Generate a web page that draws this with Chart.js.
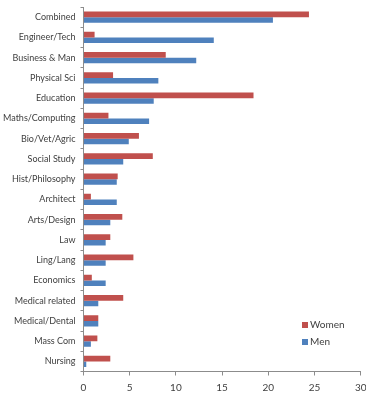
<!DOCTYPE html>
<html>
<head>
<meta charset="utf-8">
<script src="https://cdn.jsdelivr.net/npm/chart.js@4/dist/chart.umd.min.js"></script>
<style>
html,body{margin:0;padding:0;background:#fff;}
#wrap{position:relative;width:366px;height:399px;}
</style>
</head>
<body>
<div id="wrap"><canvas id="c" width="366" height="399"></canvas></div>
<script>
const categories = ["Combined","Engineer/Tech","Business & Man","Physical Sci","Education","Maths/Computing","Bio/Vet/Agric","Social Study","Hist/Philosophy","Architect","Arts/Design","Law","Ling/Lang","Economics","Medical related","Medical/Dental","Mass Com","Nursing"];
const women = [24.4,1.2,8.9,3.2,18.4,2.7,6.0,7.5,3.7,0.8,4.2,2.9,5.4,0.9,4.3,1.6,1.5,2.9];
const men   = [20.5,14.1,12.2,8.1,7.6,7.1,4.9,4.3,3.6,3.6,2.9,2.4,2.4,2.4,1.6,1.6,0.8,0.3];
const xTicks = [0,5,10,15,20,25,30];

const FONT = "Lato, 'Open Sans', sans-serif";
const TXT = "#404040";
const AX = "#8c8c8c";

const legendPlugin = {
  id: 'customLegend',
  afterDraw(chart) {
    const ctx = chart.ctx;
    const items = chart.data.datasets.map(d => ({label: d.label, color: d.backgroundColor}));
    const x0 = 302, y0 = 325, dy = 17;
    ctx.save();
    ctx.font = "10px " + FONT;
    ctx.textBaseline = 'middle';
    ctx.textAlign = 'left';
    items.forEach((it, i) => {
      const y = y0 + i * dy;
      ctx.fillStyle = it.color;
      ctx.fillRect(x0, y - 3, 6, 6);
      ctx.fillStyle = TXT;
      ctx.fillText(it.label, x0 + 8, y);
    });
    ctx.restore();
  }
};

new Chart(document.getElementById('c'), {
  type: 'bar',
  data: {
    labels: categories,
    datasets: [
      {label: 'Women', data: women, backgroundColor: '#C0504D', borderWidth: 0, categoryPercentage: 0.56, barPercentage: 1.0},
      {label: 'Men', data: men, backgroundColor: '#4F81BD', borderWidth: 0, categoryPercentage: 0.56, barPercentage: 1.0}
    ]
  },
  options: {
    indexAxis: 'y',
    responsive: false,
    animation: false,
    devicePixelRatio: 1,
    layout: {padding: 0},
    plugins: {legend: {display: false}, tooltip: {enabled: false}},
    scales: {
      x: {
        min: 0, max: 30,
        afterBuildTicks(scale) { scale.ticks = xTicks.map(v => ({value: v})); },
        afterFit(scale) { scale.height = 27.5; scale.paddingLeft = 0; scale.paddingRight = 5.3; },
        grid: {drawOnChartArea: false, drawTicks: true, tickLength: 4, color: AX},
        border: {color: AX},
        ticks: {color: TXT, font: {family: FONT, size: 10}, padding: 6, maxRotation: 0}
      },
      y: {
        afterFit(scale) { scale.width = 83.5; scale.paddingTop = 7; scale.paddingBottom = 0; },
        grid: {drawOnChartArea: false, drawTicks: true, tickLength: 3, color: AX, offset: true},
        border: {color: AX},
        ticks: {color: TXT, font: {family: FONT, size: 9}, padding: 5, autoSkip: false}
      }
    }
  },
  plugins: [legendPlugin]
});
</script>
</body>
</html>
